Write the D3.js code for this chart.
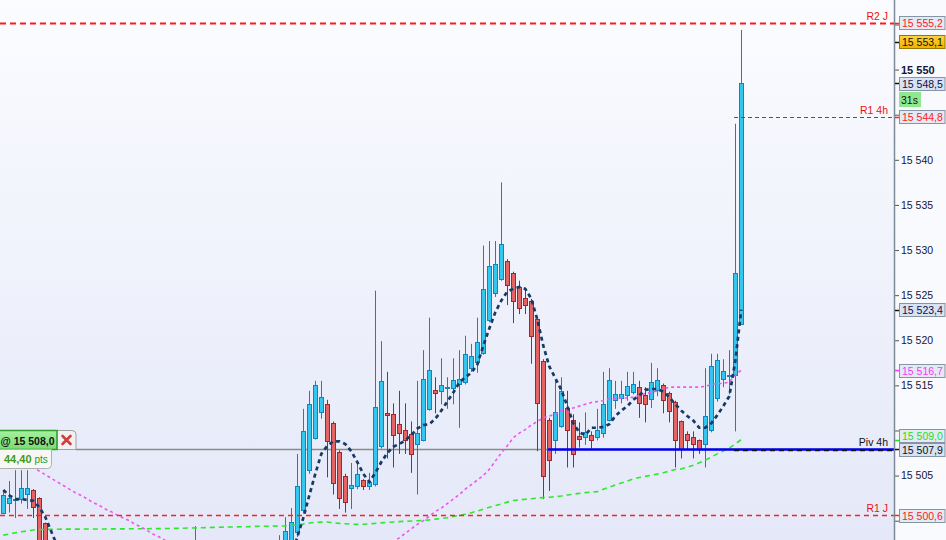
<!DOCTYPE html>
<html><head><meta charset="utf-8">
<script src="https://cdn.jsdelivr.net/npm/d3@7"></script>
<style>html,body{margin:0;padding:0;background:#fff;overflow:hidden}svg{display:block;font-family:"Liberation Sans",Arial,sans-serif}</style>
</head><body><svg id="chart" width="946" height="540"></svg>
<script>
const gap = n => Array(n).fill(null);

// ---- DATA ----
const opens = [15500.9,15502.0,15502.3,15502.4,15503.0,15503.4,15502.5,15499.7,null,null,
 ...gap(20),
 null,null,15494.0,null,null,null,null,null,null,null,
 null,null,null,null,null,null,15493.5,15496.0,15497.5,15498.7,
 15501.2,15505.6,15509.2,15512.1,15512.9,15510.8,15507.6,15505.0,15503.6,15503.8,
 15504.5,15503.9,15504.1,15508.3,15511.9,15511.8,15510.7,15510.1,15509.6,15508.5,
 15509.0,15512.4,15514.5,15514.4,15514.7,15514.7,15515.1,15515.4,15516.9,15517.6,
 15518.6,15522.2,15525.2,15526.8,15528.8,15527.5,15525.9,15524.7,15524.4,15522.4,
 15517.7,15511.2,15509.0,15510.5,15512.5,15511.2,15509.4,15509.3,15509.5,15509.3,
 15509.7,15511.2,15513.4,15513.6,15513.9,15514.3,15514.8,15513.9,15513.5,15514.5,
 15515.0,15514.2,15513.2,15511.0,15509.6,15509.3,15508.9,15508.5,15510.0,15513.6,
 15515.7,15516.1,15516.1,15521.8];
const highs = [15503.4,15504.4,15505.6,15505.6,15505.6,15503.5,15502.6,15499.8,null,null,
 ...gap(20),
 null,null,15499.4,null,null,null,null,null,null,null,
 null,null,null,null,null,null,15498.4,15500.4,15501.4,15507.4,
 15512.4,15514.4,15515.5,15515.5,15513.4,15511.0,15507.8,15505.2,15506.4,15506.4,
 15504.6,15505.3,15525.5,15519.9,15516.5,15513.0,15514.4,15513.0,15511.0,15515.5,
 15518.9,15522.5,15515.9,15518.0,15515.9,15518.0,15518.9,15520.5,15519.6,15522.5,
 15530.5,15531.0,15531.0,15537.5,15529.0,15527.6,15526.6,15525.8,15524.6,15522.6,
 15517.9,15511.4,15515.5,15515.9,15514.4,15511.8,15510.9,15512.0,15509.9,15512.4,
 15516.5,15516.9,15515.5,15515.5,15516.5,15516.5,15515.5,15514.8,15517.5,15516.9,
 15515.2,15514.3,15513.3,15511.1,15509.9,15509.9,15509.0,15516.9,15518.5,15518.5,
 15517.9,15518.9,15544.0,15554.4];
const lows = [15500.9,15500.9,15500.3,15501.9,15501.3,15500.3,15494.0,15492.5,null,null,
 ...gap(20),
 null,null,15493.0,null,null,null,null,null,null,null,
 null,null,null,null,null,null,15493.0,15495.5,15497.0,15498.2,
 15500.9,15505.2,15509.0,15511.3,15504.8,15502.9,15501.3,15500.9,15501.3,15503.5,
 15503.4,15503.4,15503.8,15508.0,15506.9,15505.9,15507.4,15507.4,15505.3,15502.9,
 15508.8,15512.2,15511.9,15512.9,15512.4,15512.9,15510.3,15515.1,15516.5,15516.4,
 15518.4,15522.0,15524.8,15526.6,15523.9,15521.9,15522.9,15522.9,15517.4,15507.7,
 15502.4,15503.3,15507.4,15510.3,15505.9,15505.9,15508.1,15508.4,15508.0,15508.9,
 15509.2,15511.0,15512.4,15513.0,15513.3,15514.0,15511.4,15510.9,15512.5,15513.8,
 15511.9,15510.9,15505.9,15506.9,15507.9,15506.9,15507.4,15505.9,15509.8,15513.2,
 15514.8,15514.0,15509.9,15521.8];
const closes = [15502.9,15502.5,15502.4,15503.6,15503.6,15501.5,15494.5,15493.0,null,null,
 ...gap(20),
 null,null,15495.5,null,null,null,null,null,null,null,
 null,null,null,null,null,null,15496.0,15498.9,15499.9,15503.9,
 15509.9,15512.9,15515.0,15513.7,15508.8,15504.2,15502.5,15502.1,15504.0,15505.2,
 15503.9,15504.3,15512.6,15515.5,15511.7,15509.5,15509.7,15509.0,15507.4,15509.7,
 15515.7,15516.7,15514.1,15515.0,15514.8,15515.6,15515.7,15518.5,15518.2,15519.8,
 15525.7,15528.2,15528.5,15530.7,15526.1,15524.4,15523.6,15523.9,15520.5,15513.0,
 15504.9,15506.7,15512.0,15514.4,15510.0,15507.4,15509.1,15509.8,15509.0,15510.0,
 15512.9,15515.6,15514.0,15514.0,15514.9,15515.1,15513.1,15512.9,15515.4,15515.6,
 15513.4,15512.2,15508.9,15508.0,15508.9,15508.5,15508.0,15511.6,15517.1,15517.8,
 15516.6,15516.2,15527.5,15548.5];
const barIndex = d3.range(opens.length);

// moving averages
const maFast = [15503.4,15502.8,15502.4,15502.4,15502.3,15502.2,15501.5,15500.4,15498.8,15497.2,
 ...gap(38),
 15496.0,15498.2,
 15500.3,15502.8,15505.2,15507.4,15508.3,15508.8,15508.8,15508.5,15507.7,15506.5,
 15505.2,15504.3,15505.3,15506.5,15507.5,15508.2,15508.5,15508.9,15509.5,15510.2,
 15510.6,15510.7,15511.3,15512.2,15513.2,15514.2,15515.3,15515.9,15516.4,15517.3,
 15519.4,15521.3,15523.1,15524.4,15525.4,15525.7,15525.9,15525.7,15524.6,15522.3,
 15519.4,15517.1,15515.8,15514.5,15512.7,15510.8,15509.8,15509.5,15510.3,15510.3,
 15510.4,15510.7,15511.6,15512.2,15512.7,15513.4,15513.9,15514.5,15514.6,15514.6,
 15514.3,15513.7,15512.9,15512.2,15511.6,15511.1,15510.3,15510.3,15510.8,15511.7,
 15512.7,15513.8,15517.7,15523.4];
const maPink = [null,null,null,null,
 15506.4,15505.9,15505.5,15505.1,15504.7,15504.3,15503.9,15503.5,15503.1,15502.8,
 15502.4,15502.0,15501.7,15501.3,15501.0,15500.6,15500.3,15500.0,15499.6,15499.3,
 15498.9,15498.5,15498.2,15497.8,15497.4,
 ...gap(35),
 15497.2,
 15497.7,15498.1,15498.6,15499.1,15499.6,15500.0,15500.5,15501.0,15501.4,15501.9,
 15502.4,15502.9,15503.5,15504.0,15504.5,15505.0,15505.7,15506.6,15507.5,15508.3,15509.2,
 15509.7,15510.1,15510.6,15511.0,15511.4,15511.6,15511.8,15512.2,15512.3,15512.5,
 15512.7,15512.9,15513.1,15513.2,15513.3,15513.5,15513.5,15513.6,15513.6,15513.7,
 15513.9,15514.1,15514.2,15514.4,15514.6,15514.8,15514.8,15514.8,15514.8,15514.8,
 15514.8,15514.9,15515.1,15515.2,15515.2,15515.4,15516.1,15516.7];
const maGreen = [15498.40,15498.53,15498.66,15498.77,15498.87,15498.97,15499.01,15499.03,15499.06,15499.06,
 15499.07,15499.07,15499.07,15499.07,15499.08,15499.08,15499.08,15499.08,15499.09,15499.09,
 15499.09,15499.10,15499.10,15499.11,15499.11,15499.12,15499.12,15499.13,15499.14,15499.16,
 15499.17,15499.19,15499.20,15499.22,15499.23,15499.26,15499.27,15499.29,15499.30,15499.32,
 15499.33,15499.34,15499.37,15499.38,15499.39,15499.40,15499.41,15499.43,15499.47,15499.54,
 15499.64,15499.74,15499.82,15499.84,15499.86,15499.78,15499.70,15499.66,15499.62,15499.59,
 15499.60,15499.66,15499.70,15499.76,15499.81,15499.86,15499.90,15499.93,15499.97,15500.00,
 15500.03,15500.09,15500.17,15500.24,15500.32,15500.46,15500.59,15500.72,15500.89,15501.08,
 15501.28,15501.48,15501.67,15501.86,15502.06,15502.24,15502.31,15502.38,15502.44,15502.51,
 15502.56,15502.60,15502.67,15502.74,15502.84,15502.94,15503.03,15503.11,15503.17,15503.22,
 15503.48,15503.72,15503.97,15504.18,15504.40,15504.62,15504.79,15504.91,15505.03,15505.17,
 15505.31,15505.50,15505.68,15505.73,15505.94,15506.14,15506.42,15506.70,15507.06,15507.41,
 15507.72,15508.06,15508.50,15509.00];

const priceTicks = [15500,15505,15510,15515,15520,15525,15530,15535,15540,15545,15550,15555];
const boldTick = 15550;
const levelNames = ["R2 J","R1 4h","Piv 4h","R1 J"];
const levelValues = [15555.2,15544.8,15507.9,15500.6];
const levelStartBar = [null,122,91,null];
const tagValues = [15555.2,15553.1,15548.5,15544.8,15523.4,15516.7,15509.0,15507.9,15500.6];
const timerText = "31s";
const orderPrice = 15508.0;
const orderLabel = "@ 15 508,0";
const orderPts = "44,40";
const orderPtsUnit = "pts";

// ---- STYLE / LAYOUT ----
const W = 946, H = 540, PLOT_R = 894;
const svg = d3.select("#chart");
const x = d3.scaleLinear().domain([0, barIndex.length - 1]).range([3.3, 741.3]);
const y = d3.scaleLinear().domain([15550, 15500]).range([69.6, 520.7]);
const loc = d3.formatLocale({decimal: ",", thousands: " ", grouping: [3], currency: ["", ""]});
const fmtTick = loc.format(",.0f"), fmtTag = loc.format(",.1f");

const defs = svg.append("defs");
const g1 = defs.append("linearGradient").attr("id","bg").attr("x1",0).attr("y1",0).attr("x2",0).attr("y2",1);
g1.append("stop").attr("offset","0%").attr("stop-color","#fbfcff");
g1.append("stop").attr("offset","100%").attr("stop-color","#e4e8f8");
const g2 = defs.append("linearGradient").attr("id","yel").attr("x1",0).attr("y1",0).attr("x2",0).attr("y2",1);
g2.append("stop").attr("offset","0%").attr("stop-color","#ffd43a");
g2.append("stop").attr("offset","100%").attr("stop-color","#f0b000");
const g3 = defs.append("linearGradient").attr("id","grn").attr("x1",0).attr("y1",0).attr("x2",0).attr("y2",1);
g3.append("stop").attr("offset","0%").attr("stop-color","#a6f0a0");
g3.append("stop").attr("offset","100%").attr("stop-color","#78dc72");
defs.append("clipPath").attr("id","plotClip").append("rect").attr("width",PLOT_R).attr("height",H);

svg.append("rect").attr("width",PLOT_R).attr("height",H).attr("fill","url(#bg)");
svg.append("rect").attr("x",PLOT_R).attr("width",W-PLOT_R).attr("height",H).attr("fill","#f9fafd");
const plot = svg.append("g").attr("clip-path","url(#plotClip)");

// order line
plot.append("line").attr("x1",76).attr("x2",PLOT_R).attr("y1",Math.round(y(orderPrice))+0.5).attr("y2",Math.round(y(orderPrice))+0.5)
  .attr("stroke","#8a8a8a").attr("stroke-width",1.5);

// candles
const BULL = {fill:"#35c6f0", stroke:"#0d86c0"}, BEAR = {fill:"#e46464", stroke:"#a3242a"};
const cg = plot.append("g");
const visible = barIndex.filter(i => opens[i] != null);
const cand = cg.selectAll("g").data(visible).join("g");
cand.append("line")
  .attr("x1", i => Math.round(x(i)) + 0.5).attr("x2", i => Math.round(x(i)) + 0.5)
  .attr("y1", i => y(highs[i])).attr("y2", i => y(lows[i]))
  .attr("stroke", i => closes[i] >= opens[i] ? BULL.stroke : BEAR.stroke).attr("stroke-width",1);
cand.append("rect")
  .attr("x", i => Math.round(x(i)) - 1.5)
  .attr("y", i => Math.round(y(Math.max(opens[i], closes[i]))) + 0.5)
  .attr("width", 4)
  .attr("height", i => Math.max(1, Math.round(y(Math.min(opens[i], closes[i]))) - Math.round(y(Math.max(opens[i], closes[i])))))
  .attr("fill", i => closes[i] >= opens[i] ? BULL.fill : BEAR.fill)
  .attr("stroke", i => closes[i] >= opens[i] ? BULL.stroke : BEAR.stroke).attr("stroke-width",1);

// moving averages
const lineGen = d3.line().defined(d => d != null).x((d, i) => x(i)).y(d => y(d));
plot.append("path").attr("d", lineGen(maGreen)).attr("fill","none").attr("stroke","#2ee82e").attr("stroke-width",1.6).attr("stroke-dasharray","5,4");
plot.append("path").attr("d", lineGen(maPink)).attr("fill","none").attr("stroke","#f055f0").attr("stroke-width",1.6).attr("stroke-dasharray","3,3");
plot.append("path").attr("d", lineGen(maFast)).attr("fill","none").attr("stroke","#163a64").attr("stroke-width",2.7).attr("stroke-dasharray","4,3.5");

// levels
const LSTYLE = [
  {stroke:"#ff1a1a", w:2, dash:"6,4", text:"#ee1111"},
  {stroke:"#d42020", w:1, dash:"4,3", text:"#ee1111"},
  {stroke:"#0000f0", w:2.5, dash:null, text:"#111111"},
  {stroke:"#ff2020", w:1.5, dash:"5,4", text:"#ee1111"}
];
levelValues.forEach((v, k) => {
  const st = LSTYLE[k];
  const x1 = levelStartBar[k] == null ? 0 : Math.round(x(levelStartBar[k])) - 1;
  const yy = Math.round(y(v)) + 0.5;
  const ln = plot.append("line").attr("x1",x1).attr("x2",PLOT_R).attr("y1",yy).attr("y2",yy)
    .attr("stroke",st.stroke).attr("stroke-width",st.w);
  if (st.dash) ln.attr("stroke-dasharray",st.dash);
  if (k === 2) {
    plot.append("line").attr("x1",Math.round(x(122)) - 1).attr("x2",PLOT_R).attr("y1",yy+1).attr("y2",yy+1)
      .attr("stroke","#111").attr("stroke-width",1.5).attr("stroke-dasharray","5,4");
  }
  svg.append("text").attr("x",888).attr("y",yy - 3.5).attr("text-anchor","end")
    .attr("font-size","10.5px").attr("fill",st.text).text(levelNames[k]);
});

// value tag layout (tags push apart when they would overlap)
const TAG_H = 13;
const tagPos = tagValues.map(v => y(v));
for (let k = tagPos.length - 2; k >= 0; k--) {
  if (tagPos[k] > tagPos[k+1] - (TAG_H + 1)) tagPos[k] = tagPos[k+1] - (TAG_H + 1);
}
// tick labels that lie under a tag are hidden by it
const coveredByTag = t => tagPos.some(c => Math.abs(y(t) - c) < TAG_H * 0.6);

// right axis
const axisG = svg.append("g").attr("transform",`translate(${PLOT_R + 1},0)`)
  .call(d3.axisRight(y).tickValues(priceTicks).tickSize(4).tickSizeOuter(0).tickFormat(fmtTick));
axisG.select(".domain").remove();
axisG.selectAll(".tick line").attr("stroke","#555");
axisG.selectAll(".tick text").attr("font-family",'"Liberation Sans",Arial,sans-serif')
  .attr("fill","#14143c").attr("x",6)
  .attr("font-weight", d => d === boldTick ? "bold" : "normal")
  .attr("font-size", d => d === boldTick ? "11px" : "10.5px")
  .attr("display", d => coveredByTag(d) ? "none" : null);
svg.append("line").attr("x1",PLOT_R+0.5).attr("x2",PLOT_R+0.5).attr("y1",0).attr("y2",H).attr("stroke","#7d8b98").attr("stroke-width",1.5);

// value tags
const TAGSTYLE = [
  {fill:"#e4eaf4", text:"#ff2020", border:"#8595a5", tick:"#ff2020"},
  {fill:"url(#yel)", text:"#111111", border:"#9a7800", tick:"#111"},
  {fill:"#d8e2f2", text:"#10104a", border:"#8595a5", tick:"#111"},
  {fill:"#e4eaf4", text:"#ff2020", border:"#8595a5", tick:"#ff2020"},
  {fill:"#d8e2f2", text:"#10104a", border:"#8595a5", tick:"#111"},
  {fill:"#e4eaf4", text:"#ff33ff", border:"#8595a5", tick:"#ff33ff"},
  {fill:"#e4eaf4", text:"#1ee01e", border:"#8595a5", tick:"#1ee01e"},
  {fill:"#d8e2f2", text:"#111111", border:"#8595a5", tick:"#111"},
  {fill:"#e4eaf4", text:"#ff2020", border:"#8595a5", tick:"#ff2020"}
];
tagValues.forEach((v, k) => {
  const st = TAGSTYLE[k], c = tagPos[k];
  svg.append("line").attr("x1",PLOT_R+1).attr("x2",PLOT_R+5).attr("y1",Math.round(y(v))+0.5).attr("y2",Math.round(y(v))+0.5)
    .attr("stroke", st.tick).attr("stroke-width",1.5);
  svg.append("rect").attr("x",899.5).attr("y",Math.round(c - TAG_H/2)+0.5).attr("width",45.5).attr("height",TAG_H)
    .attr("fill",st.fill).attr("stroke",st.border).attr("stroke-width",1);
  svg.append("text").attr("x",902).attr("y",Math.round(c - TAG_H/2) + 11)
    .attr("font-size","10.5px").attr("fill",st.text).text(fmtTag(v));
});
// timer box under last price tag
const lastIdx = tagValues.indexOf(closes[closes.length - 1]);
const tb = Math.round(tagPos[lastIdx] + TAG_H/2) + 2;
svg.append("rect").attr("x",899).attr("y",tb).attr("width",22).attr("height",15).attr("fill","#8fe88f");
svg.append("text").attr("x",901).attr("y",tb + 11.5).attr("font-size","10.5px").attr("fill","#111").text(timerText);

// order ticket (left)
const oy = Math.round(y(orderPrice));
const og = svg.append("g");
og.append("path").attr("d",`M57,${oy-18.5} H72 Q76,${oy-18.5} 76,${oy-14.5} V${oy+0.5} H57 Z`)
  .attr("fill","#f1f1f1").attr("stroke","#a0a0a0").attr("stroke-width",1);
og.append("path").attr("d",`M62.5,${oy-13} L70.5,${oy-5} M70.5,${oy-13} L62.5,${oy-5}`)
  .attr("stroke","#d43c3c").attr("stroke-width",2.6).attr("stroke-linecap","round");
og.append("rect").attr("x",-2).attr("y",oy-18.5).attr("width",59).attr("height",19)
  .attr("fill","url(#grn)").attr("stroke","#2f9e2f").attr("stroke-width",1.5);
og.append("text").attr("x",0.5).attr("y",oy-4.5).attr("font-size","10.5px").attr("font-weight","bold").attr("fill","#111").text(orderLabel);
og.append("path").attr("d",`M-1,${oy+0.5} H51.5 V${oy+15.5} Q51.5,${oy+19.5} 47.5,${oy+19.5} H-1 Z`)
  .attr("fill","#f7f8f6").attr("stroke","#b0b0b0").attr("stroke-width",1);
const pt = og.append("text").attr("x",4).attr("y",oy+14).attr("fill","#3f9a1c");
pt.append("tspan").attr("font-size","11px").attr("font-weight","bold").text(orderPts);
pt.append("tspan").attr("font-size","10px").attr("fill","#2a9a2a").attr("dx",3).text(orderPtsUnit);
</script></body></html>
